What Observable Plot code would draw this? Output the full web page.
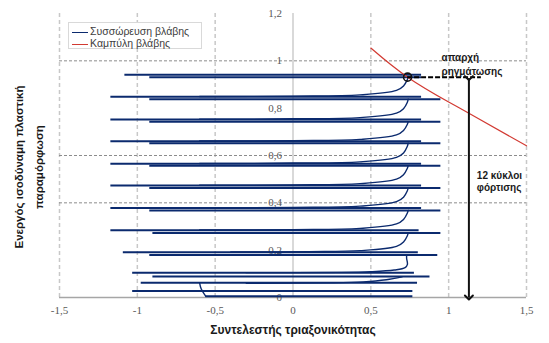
<!DOCTYPE html>
<html>
<head>
<meta charset="utf-8">
<script src="https://cdn.jsdelivr.net/npm/d3@7"></script>
<script src="https://cdn.jsdelivr.net/npm/@observablehq/plot@0.6"></script>
<style>
  body { margin: 0; background: #fff; }
  #wrap { position: relative; width: 549px; height: 343px; overflow: hidden; }
  #legend { position: absolute; left: 68px; top: 22px; width: 134px; height: 27px;
            background: #fff; border: 1px solid #d9d9d9; box-sizing: border-box;
            font-family: "Liberation Sans", Arial, sans-serif; font-size: 10.5px; color: #404040; }
  #legend .row { position: absolute; left: 3px; height: 12px; line-height: 12px; white-space: nowrap; }
  #legend .sw { display: inline-block; width: 16px; height: 0; vertical-align: middle; margin-right: 2px; }
  .ytitle { position: absolute; white-space: nowrap; font-family: "Liberation Sans", Arial, sans-serif;
            font-weight: bold; font-size: 11.5px; color: #1a1a1a; line-height: 13px;
            transform: translate(-50%, -50%) rotate(-90deg); }
</style>
</head>
<body>
<div id="wrap"></div>
<script>
// ---- axis ticks and grid ----
const xTicks = [-1.5, -1, -0.5, 0, 0.5, 1, 1.5];
const yTicks = [0, 0.2, 0.4, 0.6, 0.8, 1, 1.2];
const hGrid = [0.4, 0.6, 1.0];
const vGrid = [-1.5, -1, -0.5, 0.5, 1, 1.5];
const yTitleLines = ["Ενεργός ισοδύναμη πλαστική", "παραμόρφωση"];

// ---- damage accumulation: near-horizontal strokes (strain, left triaxiality, right triaxiality) ----
const segStrain = [0.941, 0.931, 0.848, 0.838, 0.752, 0.743, 0.660, 0.652, 0.565, 0.557,
                   0.473, 0.463, 0.378, 0.368, 0.284, 0.273, 0.191, 0.180, 0.105, 0.089,
                   0.062, 0.027, 0.005];
const segLeft   = [-1.08, -0.92, -1.17, -0.92, -1.17, -0.92, -1.17, -0.92, -1.17, -0.92,
                   -1.17, -0.92, -1.17, -0.92, -1.17, -0.90, -1.09, -0.92, -1.03, -0.90,
                   -0.975, -1.03, -0.56];
const segRight  = [0.826, 0.826, 0.826, 0.95, 0.826, 0.95, 0.826, 0.95, 0.826, 0.95,
                   0.826, 0.95, 0.826, 0.95, 0.81, 0.95, 0.805, 0.93, 0.78, 0.88,
                   0.80, 0.77, 0.77];

// ---- damage accumulation: rising parts of each cycle ([triaxiality, strain]) ----
const accumCurves = [
  [[-0.6,0.849],[0,0.851],[0.43,0.856],[0.665,0.875],[0.71,0.894],[0.734,0.92],[0.74,0.931]],
  [[-0.6,0.753],[0,0.755],[0.43,0.760],[0.665,0.779],[0.71,0.798],[0.734,0.824],[0.74,0.838]],
  [[-0.6,0.661],[0,0.663],[0.43,0.668],[0.665,0.687],[0.71,0.706],[0.734,0.731],[0.74,0.743]],
  [[-0.6,0.566],[0,0.568],[0.43,0.573],[0.665,0.592],[0.71,0.611],[0.734,0.638],[0.74,0.652]],
  [[-0.6,0.474],[0,0.476],[0.43,0.481],[0.665,0.500],[0.71,0.519],[0.734,0.545],[0.74,0.557]],
  [[-0.6,0.379],[0,0.381],[0.43,0.386],[0.665,0.405],[0.71,0.424],[0.734,0.450],[0.74,0.463]],
  [[-0.6,0.285],[0,0.287],[0.43,0.292],[0.665,0.311],[0.71,0.330],[0.734,0.356],[0.74,0.368]],
  [[-0.4,0.192],[0.1,0.194],[0.43,0.198],[0.665,0.216],[0.71,0.235],[0.734,0.260],[0.74,0.273]],
  [[-0.3,0.105],[0.3,0.106],[0.5,0.109],[0.65,0.116],[0.72,0.126],[0.735,0.14],[0.73,0.165],[0.73,0.180]],
  [[-0.3,0.060],[0.24,0.062],[0.45,0.066],[0.6,0.075],[0.70,0.087]],
  [[-0.6,0.062],[-0.59,0.037],[-0.56,0.005]]
];

// ---- damage curve ----
const damageX = [0.5, 0.736, 1.0, 1.147, 1.5];
const damageY = [1.054, 0.931, 0.826, 0.772, 0.641];

// ---- annotations ----
const initiation = [[0.736, 0.931]];
const initLead = [[0.736, 1.21, 0.931]];          // x1, x2, strain
const cycleArrow = [[1.13, 0.927, 0.0]];         // x, y1, y2
const notes = [
  {x: 0.954, y: 1.013, t: "απαρχή"},
  {x: 0.954, y: 0.955, t: "ρηγμάτωσης"},
  {x: 1.181, y: 0.516, t: "12 κύκλοι"},
  {x: 1.181, y: 0.464, t: "φόρτισης"}
];

const fmt = d => String(d).replace(".", ",");
const segs = segStrain.map((s, i) => ({y: s, x1: segLeft[i], x2: segRight[i]}));
const curvePts = accumCurves.flatMap((c, k) => c.map(([x, y]) => ({x, y, k})));
const damage = damageX.map((x, i) => ({x, y: damageY[i]}));
const blue = "#0b2a6e";

const chart = Plot.plot({
  width: 549, height: 343,
  marginLeft: 59, marginRight: 23, marginTop: 13, marginBottom: 46,
  x: {domain: [-1.5, 1.5], axis: null},
  y: {domain: [0, 1.2], axis: null},
  style: {fontFamily: "Liberation Sans, Arial, sans-serif", fontSize: "10px", background: "#fff"},
  marks: [
    Plot.ruleX(vGrid, {stroke: "#c8c8c8", strokeWidth: 1.5, strokeDasharray: "4,3"}),
    Plot.ruleY(hGrid, {stroke: "#8c8c8c", strokeWidth: 1, strokeDasharray: "3,2"}),
    Plot.ruleX([0], {stroke: "#d9d9d9", strokeWidth: 2}),
    Plot.ruleY([0], {stroke: "#a6a6a6", strokeWidth: 1.5}),
    Plot.text(yTicks, {x: d => 0, y: d => d, text: fmt, textAnchor: "end", dx: -11,
      fill: "#595959", fontFamily: "Liberation Serif, serif", fontSize: 11}),
    Plot.ruleY(segs, {y: "y", x1: "x1", x2: "x2", stroke: blue, strokeWidth: 2}),
    Plot.line(curvePts, {x: "x", y: "y", z: "k", curve: "catmull-rom", stroke: blue, strokeWidth: 1.4}),
    Plot.line(damage, {x: "x", y: "y", curve: "natural", stroke: "#d23a32", strokeWidth: 1.2}),
    Plot.ruleY(initLead, {y: d => d[2], x1: d => d[0], x2: d => d[1], stroke: "#000", strokeWidth: 2, strokeDasharray: "5,2"}),
    Plot.link(cycleArrow, {x1: d => d[0], x2: d => d[0], y1: d => d[1], y2: d => d[2],
      stroke: "#111", strokeWidth: 2, markerStart: "arrow", markerEnd: "arrow"}),
    Plot.dot(initiation, {x: d => d[0], y: d => d[1], r: 4, stroke: "#111", strokeWidth: 1.6, fill: "none"}),
    Plot.text(notes, {x: "x", y: "y", text: "t", textAnchor: "start", fontWeight: "bold", fontSize: 10, fill: "#1a1a1a"}),
    Plot.text(xTicks, {x: d => d, text: fmt, frameAnchor: "bottom", dy: 16,
      fill: "#595959", fontFamily: "Liberation Serif, serif", fontSize: 11}),
    Plot.text(["Συντελεστής τριαξονικότητας"], {frameAnchor: "bottom", dy: 36, text: d => d,
      fontWeight: "bold", fontSize: 12, fill: "#1a1a1a"})
  ]
});
const wrap = document.getElementById("wrap");
wrap.appendChild(chart);
const lg = document.createElement("div");
lg.id = "legend";
lg.innerHTML = `<div class="row" style="top:2px"><span class="sw" style="border-top:1.5px solid ${blue}"></span>Συσσώρευση βλάβης</div>
<div class="row" style="top:14px"><span class="sw" style="border-top:1.5px solid #d23a32"></span>Καμπύλη βλάβης</div>`;
wrap.appendChild(lg);
const titleX = [19, 39];
yTitleLines.forEach((t, i) => {
  const d = document.createElement("div");
  d.className = "ytitle";
  d.style.left = titleX[i] + "px";
  d.style.top = "167px";
  d.textContent = t;
  wrap.appendChild(d);
});
</script>
</body>
</html>
